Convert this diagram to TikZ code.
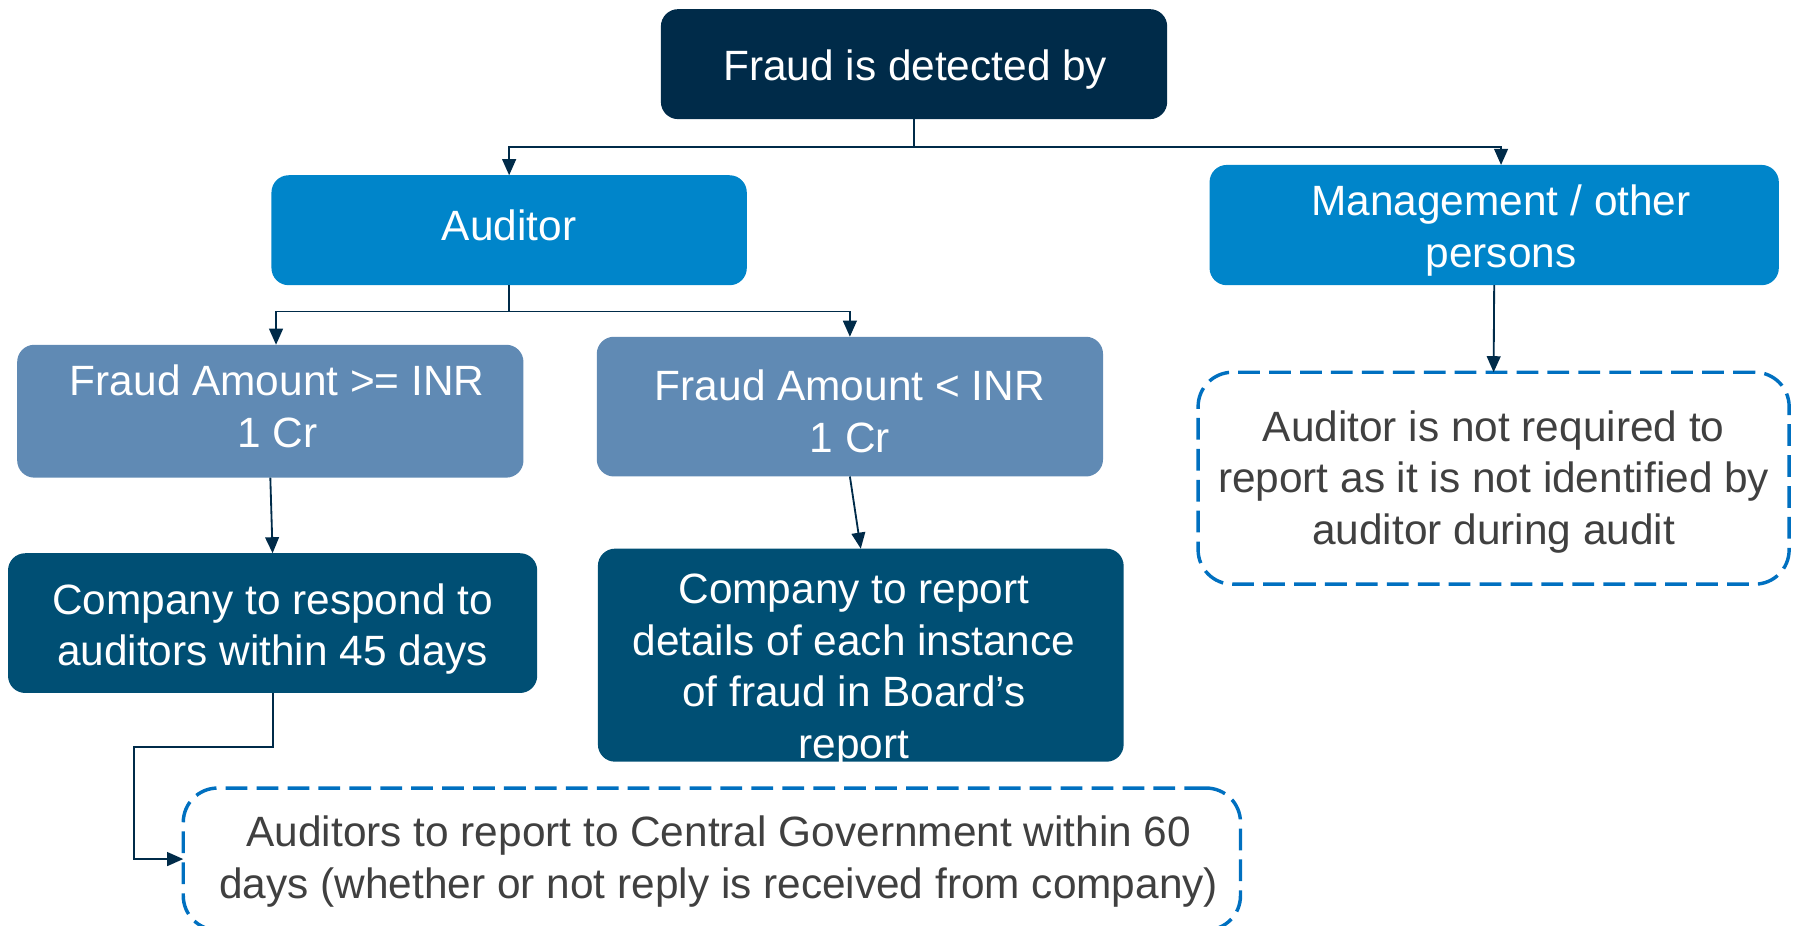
\documentclass[tikz,border=0pt]{standalone}
\usepackage{fontspec}
\setmainfont{Liberation Sans}
\usetikzlibrary{arrows.meta}
\definecolor{navy}{RGB}{0,43,73}
\definecolor{brightblue}{RGB}{0,133,202}
\definecolor{steelblue}{RGB}{96,138,180}
\definecolor{deepblue}{RGB}{0,79,116}
\definecolor{dashblue}{RGB}{0,112,192}
\definecolor{darktext}{RGB}{64,64,64}
\begin{document}
\begin{tikzpicture}[x=0.5pt, y=-0.5pt,
  box/.style={rounded corners=7.5pt, inner sep=0pt, outer sep=0pt},
  topbox/.style={box, fill=navy},
  whobox/.style={box, fill=brightblue},
  amtbox/.style={box, fill=steelblue},
  actbox/.style={box, fill=deepblue},
  notebox/.style={box, draw=dashblue, line width=1.5pt, dash pattern=on 9.5pt off 4pt,
    rounded corners=15pt, fill=white},
  txt/.style={align=center, text=white, inner sep=0pt, font=\fontsize{18.5}{22.5}\selectfont},
  notetxt/.style={txt, text=darktext},
  arr/.style={draw=navy, line width=0.8pt, -{Triangle[length=7pt,width=6pt]}}
]
\useasboundingbox (0,0) rectangle (1568,808);

% boxes
\node[topbox, minimum width=221pt, minimum height=48pt] (top) at (798,56) {};
\node[txt] (top-t) at ([xshift=0.5pt,yshift=-2.5pt]top.center) {Fraud is detected by};

\node[whobox, minimum width=207.5pt, minimum height=48pt] (aud) at (444.5,201) {};
\node[txt] (aud-t) at ([yshift=2pt]aud.center) {Auditor};

\node[whobox, minimum width=248.5pt, minimum height=52.5pt] (mgmt) at (1304.5,196.5) {};
\node[txt] (mgmt-t) at ([xshift=3pt,yshift=-2.5pt]mgmt.center) {Management / other\\persons};

\node[amtbox, minimum width=221pt, minimum height=58pt] (fa) at (236,359) {};
\node[txt] (fa-t) at ([xshift=3pt,yshift=2pt]fa.center) {Fraud Amount >= INR\\1 Cr};

\node[amtbox, minimum width=221pt, minimum height=61pt] (fb) at (742,355) {};
\node[txt] (fb-t) at ([yshift=-2pt]fb.center) {Fraud Amount < INR\\1 Cr};

\node[actbox, minimum width=231pt, minimum height=61pt] (cr) at (238,544) {};
\node[txt] (cr-t) at ([yshift=-2.5pt]cr.center) {Company to respond to\\auditors within 45 days};

\node[actbox, minimum width=229.5pt, minimum height=93pt] (crep) at (751.5,572) {};
\node[txt] (crep-t) at ([xshift=-3pt,yshift=-6.75pt]crep.center) {Company to report\\details of each instance\\of fraud in Board’s\\report};

\node[notebox, minimum width=258pt, minimum height=92.5pt] (nreq) at (1304,417.5) {};
\node[notetxt] (nreq-t) at ([yshift=-1.5pt]nreq.center) {Auditor is not required to\\report as it is not identified by\\auditor during audit};

\node[notebox, minimum width=461.5pt, minimum height=62pt] (cg) at (621.5,750) {};
\node[notetxt] (cg-t) at ([xshift=3pt,yshift=-1pt]cg.center) {Auditors to report to Central Government within 60\\days (whether or not reply is received from company)};

% connectors
\draw[arr] (top.south) -- ++(0,24) -| (aud.north);
\draw[arr] (top.south) -- ++(0,24) -| ([xshift=3pt]mgmt.north);
\draw[arr] (aud.south) -- ++(0,23) -| ([xshift=2.5pt]fa.north);
\draw[arr] (aud.south) -- ++(0,23) -| (fb.north);
\draw[arr] (fa.south) -- (cr.north);
\draw[arr] (fb.south) -- (crep.north);
\draw[arr] (mgmt.south) -- (nreq.north);
\coordinate (bend) at (117,652);
\draw[arr] (cr.south) |- (bend) |- (cg.west);
\end{tikzpicture}
\end{document}
